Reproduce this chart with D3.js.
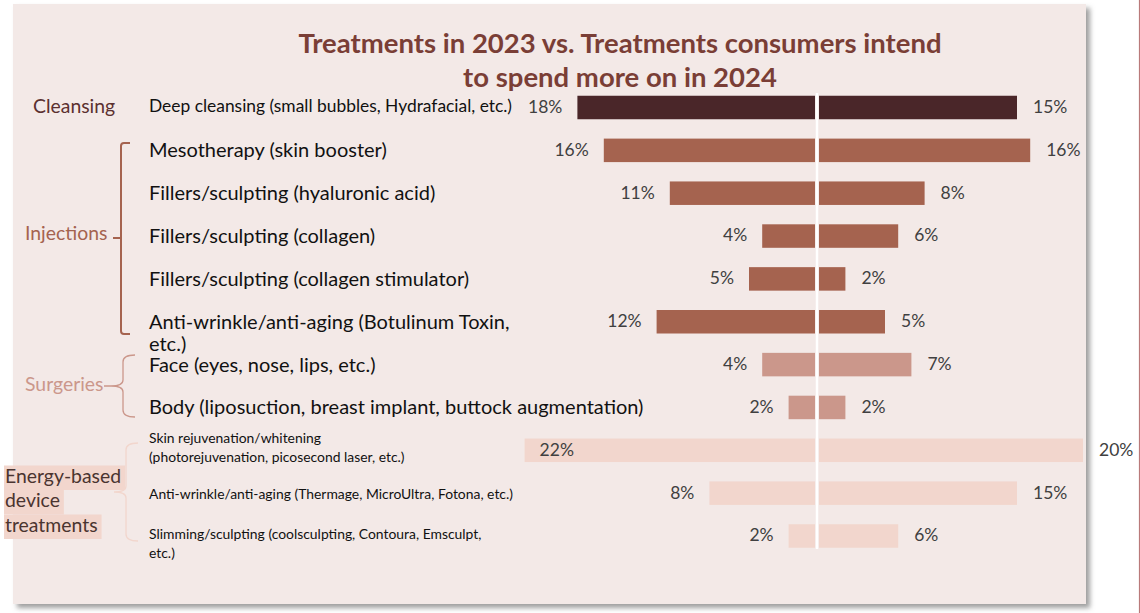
<!DOCTYPE html>
<html>
<head>
<meta charset="utf-8">
<script src="https://cdn.jsdelivr.net/npm/d3@7"></script>
<style>
  html, body { margin: 0; padding: 0; background: #ffffff; }
  svg { display: block; }
</style>
</head>
<body>
<svg id="chart" width="1140" height="613"></svg>
<script>
// ---- data ----
const titleLines = ["Treatments in 2023 vs. Treatments consumers intend", "to spend more on in 2024"];
const groups = ["Cleansing", "Injections", "Surgeries", "Energy-based device treatments"];
const categories = [
  ["Deep cleansing (small bubbles, Hydrafacial, etc.)"],
  ["Mesotherapy (skin booster)"],
  ["Fillers/sculpting (hyaluronic acid)"],
  ["Fillers/sculpting (collagen)"],
  ["Fillers/sculpting (collagen stimulator)"],
  ["Anti-wrinkle/anti-aging (Botulinum Toxin,", "etc.)"],
  ["Face (eyes, nose, lips, etc.)"],
  ["Body (liposuction, breast implant, buttock augmentation)"],
  ["Skin rejuvenation/whitening", "(photorejuvenation, picosecond laser, etc.)"],
  ["Anti-wrinkle/anti-aging (Thermage, MicroUltra, Fotona, etc.)"],
  ["Slimming/sculpting (coolsculpting, Contoura, Emsculpt,", "etc.)"]
];
const categoryGroup = [0, 1, 1, 1, 1, 1, 2, 2, 3, 3, 3];
const treated2023 = [18, 16, 11, 4, 5, 12, 4, 2, 22, 8, 2];
const intend2024 = [15, 16, 8, 6, 2, 5, 7, 2, 20, 15, 6];

// ---- styling ----
const groupColor = ["#4a2629", "#a5634f", "#cb978b", "#f2d6cd"];
const groupTextColor = ["#5b3030", "#a5634f", "#cb978b", "#4a3430"];
const catFontSize = [17.4, 20, 20, 13.9];
const FONT = "Lato, 'Open Sans', sans-serif";

const svg = d3.select("#chart");
const W = 1140, H = 613;

// drop shadow for the panel
const defs = svg.append("defs");
const f = defs.append("filter").attr("id", "shadow").attr("x", "-5%").attr("y", "-5%").attr("width", "115%").attr("height", "115%");
f.append("feDropShadow").attr("dx", 4).attr("dy", 4).attr("stdDeviation", 2.5)
  .attr("flood-color", "#777").attr("flood-opacity", 0.7);

// thin rule at the right edge of the page
svg.append("line").attr("x1", 1139.5).attr("x2", 1139.5).attr("y1", 0).attr("y2", H)
  .attr("stroke", "#b97a7a").attr("stroke-width", 1.2);

// background panel
svg.append("rect").attr("x", 13).attr("y", 4).attr("width", 1073).attr("height", 600)
  .attr("fill", "#f3e9e7").attr("filter", "url(#shadow)");

// title
svg.append("g").selectAll("text").data(titleLines).join("text")
  .attr("x", 620).attr("y", (d, i) => 53 + i * 34)
  .attr("text-anchor", "middle")
  .attr("font-family", FONT).attr("font-weight", 700).attr("font-size", 27.5)
  .attr("fill", "#7a3e36")
  .text(d => d);

// ---- scales ----
const centerX = 817;
const gap = 2;
const x = d3.scaleLinear().domain([0, 22]).range([0, 290.4]);
const y = d3.scalePoint().domain(d3.range(categories.length)).range([107.5, 536]);
const barH = 23.5;

const rows = categories.map((c, i) => ({
  i, lines: c, g: categoryGroup[i], left: treated2023[i], right: intend2024[i]
}));

// bars
const barG = svg.append("g");
barG.selectAll("rect.left").data(rows).join("rect").attr("class", "left")
  .attr("x", d => centerX - gap - x(d.left))
  .attr("y", d => y(d.i) - barH / 2)
  .attr("width", d => x(d.left))
  .attr("height", barH)
  .attr("fill", d => groupColor[d.g]);
barG.selectAll("rect.right").data(rows).join("rect").attr("class", "right")
  .attr("x", centerX + gap)
  .attr("y", d => y(d.i) - barH / 2)
  .attr("width", d => x(d.right))
  .attr("height", barH)
  .attr("fill", d => groupColor[d.g]);

// centre divider
svg.append("line").attr("x1", centerX).attr("x2", centerX).attr("y1", 93).attr("y2", 549)
  .attr("stroke", "#ffffff").attr("stroke-width", 2.5);

// value labels
const labelG = svg.append("g").attr("font-family", FONT).attr("font-size", 17.5).attr("fill", "#404040");
const leftEdge = d => centerX - gap - x(d.left);
labelG.selectAll("text.l").data(rows).join("text").attr("class", "l")
  .attr("x", d => d.left >= 22 ? leftEdge(d) + 15 : leftEdge(d) - 15)
  .attr("y", d => y(d.i) + 1)
  .attr("dominant-baseline", "middle")
  .attr("text-anchor", d => d.left >= 22 ? "start" : "end")
  .text(d => d.left + "%");
labelG.selectAll("text.r").data(rows).join("text").attr("class", "r")
  .attr("x", d => centerX + gap + x(d.right) + 16)
  .attr("y", d => y(d.i) + 1)
  .attr("dominant-baseline", "middle")
  .text(d => d.right + "%");

// category labels
const catFirstOffset = { 5: 0, 8: -13, 10: -3 };
const catLineStep = { 1: 22, 3: 19 };
const catG = svg.append("g").attr("font-family", FONT).attr("fill", "#111");
rows.forEach(d => {
  const t = catG.append("text")
    .attr("font-size", catFontSize[d.g])
    .attr("dominant-baseline", "middle");
  const first = (d.lines.length > 1 ? (catFirstOffset[d.i] || 0) : 0) + (d.g === 0 ? 0 : 2);
  d.lines.forEach((ln, k) => {
    t.append("tspan").attr("x", 149)
      .attr("y", y(d.i) + first + k * (catLineStep[d.g] || 19))
      .text(ln);
  });
});

// group labels and braces
const gl = svg.append("g").attr("font-family", FONT).attr("font-size", 19.4);
gl.append("text").attr("x", 33).attr("y", 108).attr("dominant-baseline", "middle")
  .attr("fill", groupTextColor[0]).text(groups[0]);

gl.append("text").attr("x", 25).attr("y", 235).attr("dominant-baseline", "middle")
  .attr("fill", groupTextColor[1]).text(groups[1]);
gl.append("path")
  .attr("d", "M130,143 H124 Q121,143 121,146 V331 Q121,334 124,334 H130 M121,238 H113")
  .attr("fill", "none").attr("stroke", groupColor[1]).attr("stroke-width", 2);

gl.append("text").attr("x", 25).attr("y", 386).attr("dominant-baseline", "middle")
  .attr("fill", groupTextColor[2]).text(groups[2]);
gl.append("path")
  .attr("d", "M135,355 Q123,355 123,362 V380 Q123,386 111,386 Q123,386 123,392 V410 Q123,417 135,417 M111,386 H104")
  .attr("fill", "none").attr("stroke", groupColor[2]).attr("stroke-width", 1.3);

// multi-line highlighted group label
const eLines = ["Energy-based", "device", "treatments"];
const eg = gl.append("g").attr("font-size", 19.4);
eLines.forEach((ln, k) => {
  const ty = 478 + k * 24.5;
  const txt = eg.append("text").attr("x", 5).attr("y", ty).attr("dominant-baseline", "middle")
    .attr("fill", groupTextColor[3]).text(ln);
  const w = txt.node().getComputedTextLength();
  eg.insert("rect", "text").attr("x", 4).attr("y", ty - 12.5).attr("width", w + 5).attr("height", 24.5)
    .attr("fill", groupColor[3]);
});
gl.append("path")
  .attr("d", "M138,443 Q126,443 126,450 V486 Q126,492 114,492 Q126,492 126,498 V534 Q126,541 138,541")
  .attr("fill", "none").attr("stroke", groupColor[3]).attr("stroke-width", 1.3);
</script>
</body>
</html>
